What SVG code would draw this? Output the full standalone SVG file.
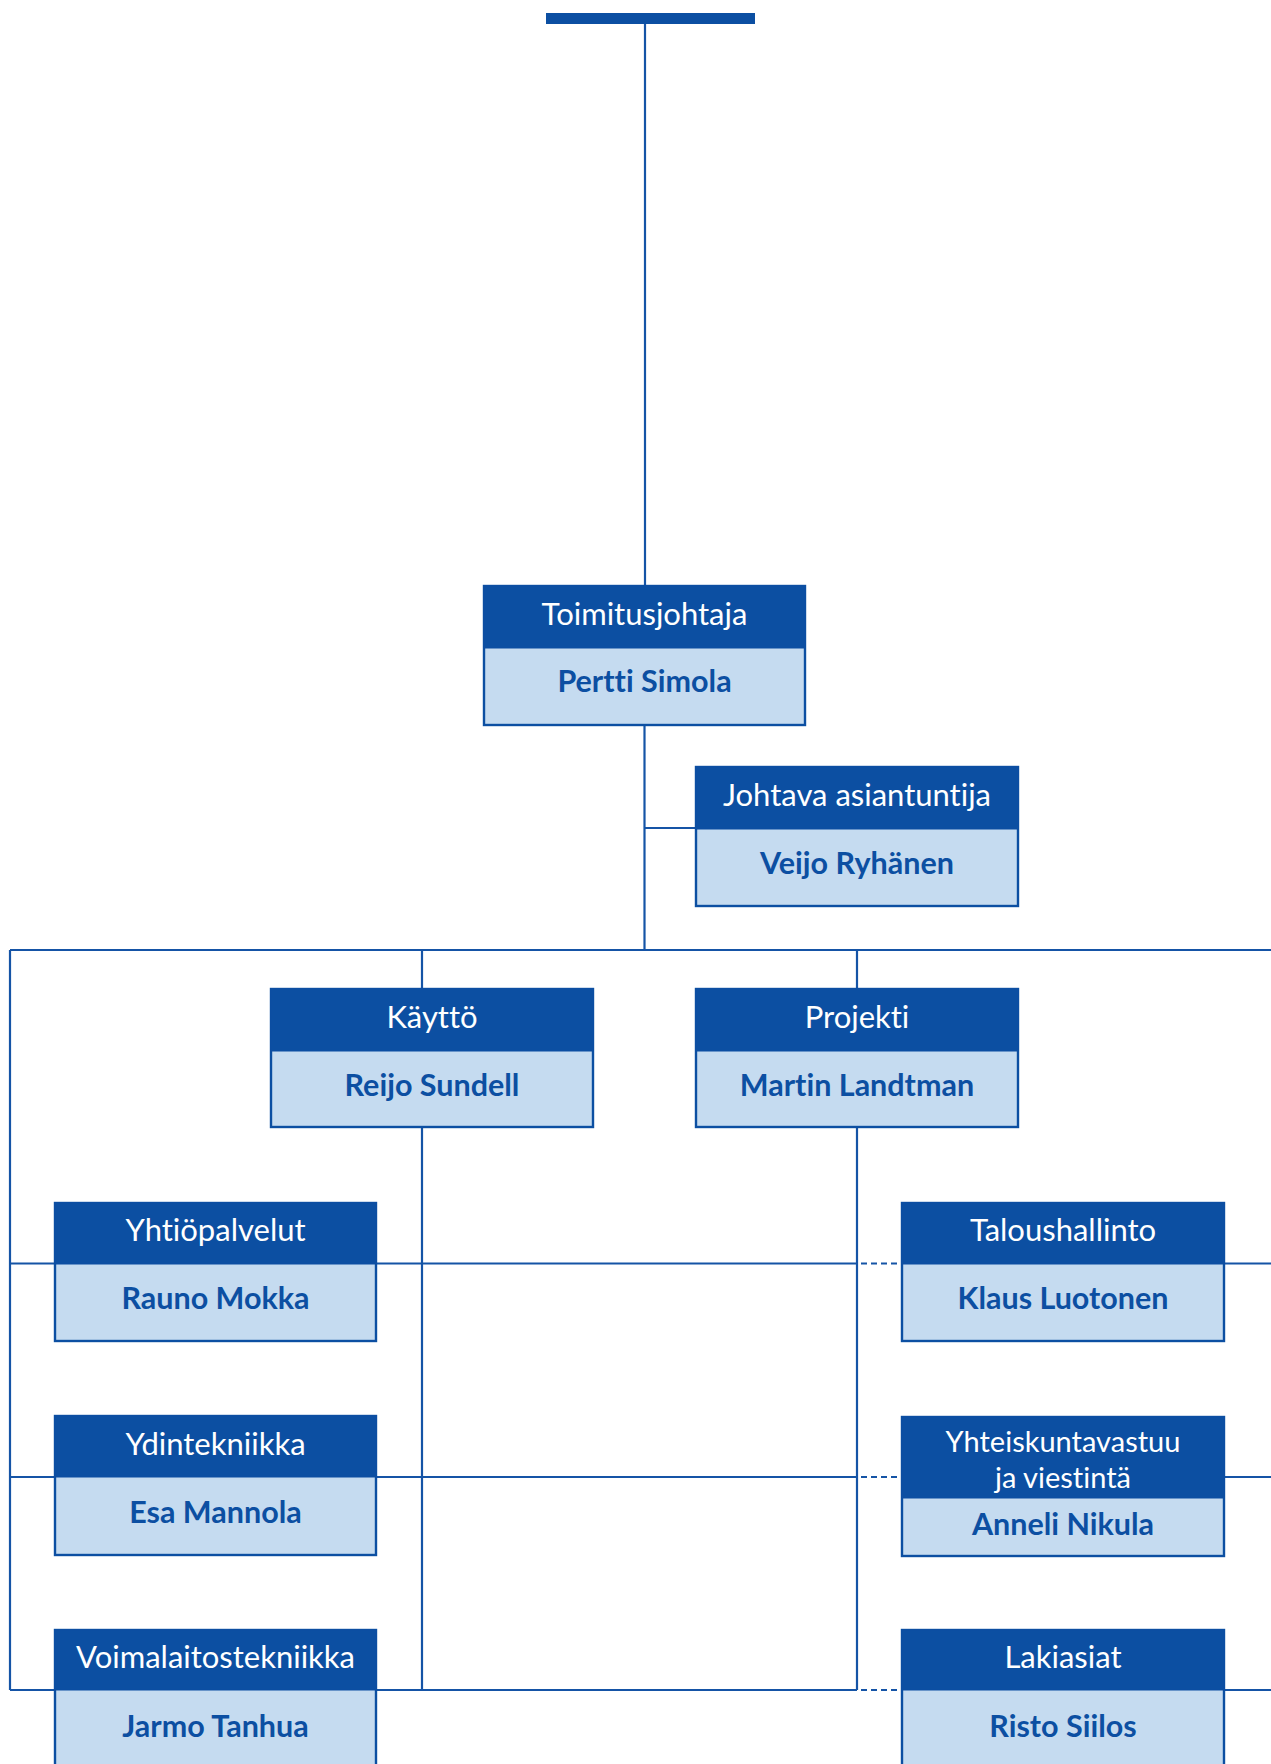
<svg xmlns="http://www.w3.org/2000/svg" width="1271" height="1764" viewBox="0 0 1271 1764">
<style>
.ln{stroke:#1554a6;stroke-width:2.2;fill:none}
.dot{stroke:#1554a6;stroke-width:2.2;fill:none;stroke-dasharray:6 4}
.hd{fill:#0c4fa2;stroke:#0c4fa2;stroke-width:1}
.bd{fill:#c5dbf0;stroke:#0c4fa2;stroke-width:2.4}
.ht{font-family:Lato,"Open Sans",sans-serif;font-size:31px;fill:#ffffff;text-anchor:middle;font-variant-ligatures:none}
.ht2{font-size:29px}
.bt{font-family:Lato,"Open Sans",sans-serif;font-size:30.5px;font-weight:bold;fill:#0c4fa2;text-anchor:middle;font-variant-ligatures:none}
</style>
<rect width="1271" height="1764" fill="#ffffff"/>
<g id="connectors">
<rect x="546" y="13" width="209" height="11" fill="#0c4fa2"/>
<path class="ln" d="M645 24V586"/>
<path class="ln" d="M644.5 725V950"/>
<path class="ln" d="M644.5 828H696"/>
<path class="ln" d="M10 950H1271"/>
<path class="ln" d="M10 950V1690"/>
<path class="ln" d="M422 950V989M422 1127V1690"/>
<path class="ln" d="M857 950V989M857 1127V1690"/>
<path class="ln" d="M10 1263.5H857M10 1477H857M10 1690H857"/>
<path class="dot" d="M861 1263.5H902M861 1477H902M861 1690H902"/>
<path class="ln" d="M1224 1263.5H1271M1224 1477H1271M1224 1690H1271"/>
</g>
<g id="toimitusjohtaja">
<rect class="bd" x="484" y="586" width="321" height="139"/>
<rect class="hd" x="484" y="586" width="321" height="62"/>
<text class="ht" x="644.5" y="624.5">Toimitusjohtaja</text>
<text class="bt" x="644.5" y="692">Pertti Simola</text>
</g>
<g id="johtava">
<rect class="bd" x="696" y="767" width="322" height="139"/>
<rect class="hd" x="696" y="767" width="322" height="62"/>
<text class="ht" x="857" y="805.5">Johtava asiantuntija</text>
<text class="bt" x="857" y="874">Veijo Ryhänen</text>
</g>
<g id="kaytto">
<rect class="bd" x="271" y="989" width="322" height="138"/>
<rect class="hd" x="271" y="989" width="322" height="62"/>
<text class="ht" x="432" y="1027.5">Käyttö</text>
<text class="bt" x="432" y="1096">Reijo Sundell</text>
</g>
<g id="projekti">
<rect class="bd" x="696" y="989" width="322" height="138"/>
<rect class="hd" x="696" y="989" width="322" height="62"/>
<text class="ht" x="857" y="1027.5">Projekti</text>
<text class="bt" x="857" y="1096">Martin Landtman</text>
</g>
<g id="yhtiopalvelut">
<rect class="bd" x="55" y="1203" width="321" height="138"/>
<rect class="hd" x="55" y="1203" width="321" height="61"/>
<text class="ht" x="215.5" y="1241">Yhtiöpalvelut</text>
<text class="bt" x="215.5" y="1309">Rauno Mokka</text>
</g>
<g id="ydintekniikka">
<rect class="bd" x="55" y="1416" width="321" height="139"/>
<rect class="hd" x="55" y="1416" width="321" height="61"/>
<text class="ht" x="215.5" y="1454.5">Ydintekniikka</text>
<text class="bt" x="215.5" y="1522.5">Esa Mannola</text>
</g>
<g id="voimalaitostekniikka">
<rect class="bd" x="55" y="1630" width="321" height="180"/>
<rect class="hd" x="55" y="1630" width="321" height="60"/>
<text class="ht" x="215.5" y="1667.5">Voimalaitostekniikka</text>
<text class="bt" x="215.5" y="1736.5">Jarmo Tanhua</text>
</g>
<g id="taloushallinto">
<rect class="bd" x="902" y="1203" width="322" height="138"/>
<rect class="hd" x="902" y="1203" width="322" height="61"/>
<text class="ht" x="1063" y="1241">Taloushallinto</text>
<text class="bt" x="1063" y="1309">Klaus Luotonen</text>
</g>
<g id="yhteiskuntavastuu">
<rect class="bd" x="902" y="1417" width="322" height="139"/>
<rect class="hd" x="902" y="1417" width="322" height="81"/>
<text class="ht ht2" x="1063" y="1452">Yhteiskuntavastuu</text>
<text class="ht ht2" x="1063" y="1487.5">ja viestintä</text>
<text class="bt" x="1063" y="1535">Anneli Nikula</text>
</g>
<g id="lakiasiat">
<rect class="bd" x="902" y="1630" width="322" height="180"/>
<rect class="hd" x="902" y="1630" width="322" height="60"/>
<text class="ht" x="1063" y="1667.5">Lakiasiat</text>
<text class="bt" x="1063" y="1736.5">Risto Siilos</text>
</g>
</svg>
